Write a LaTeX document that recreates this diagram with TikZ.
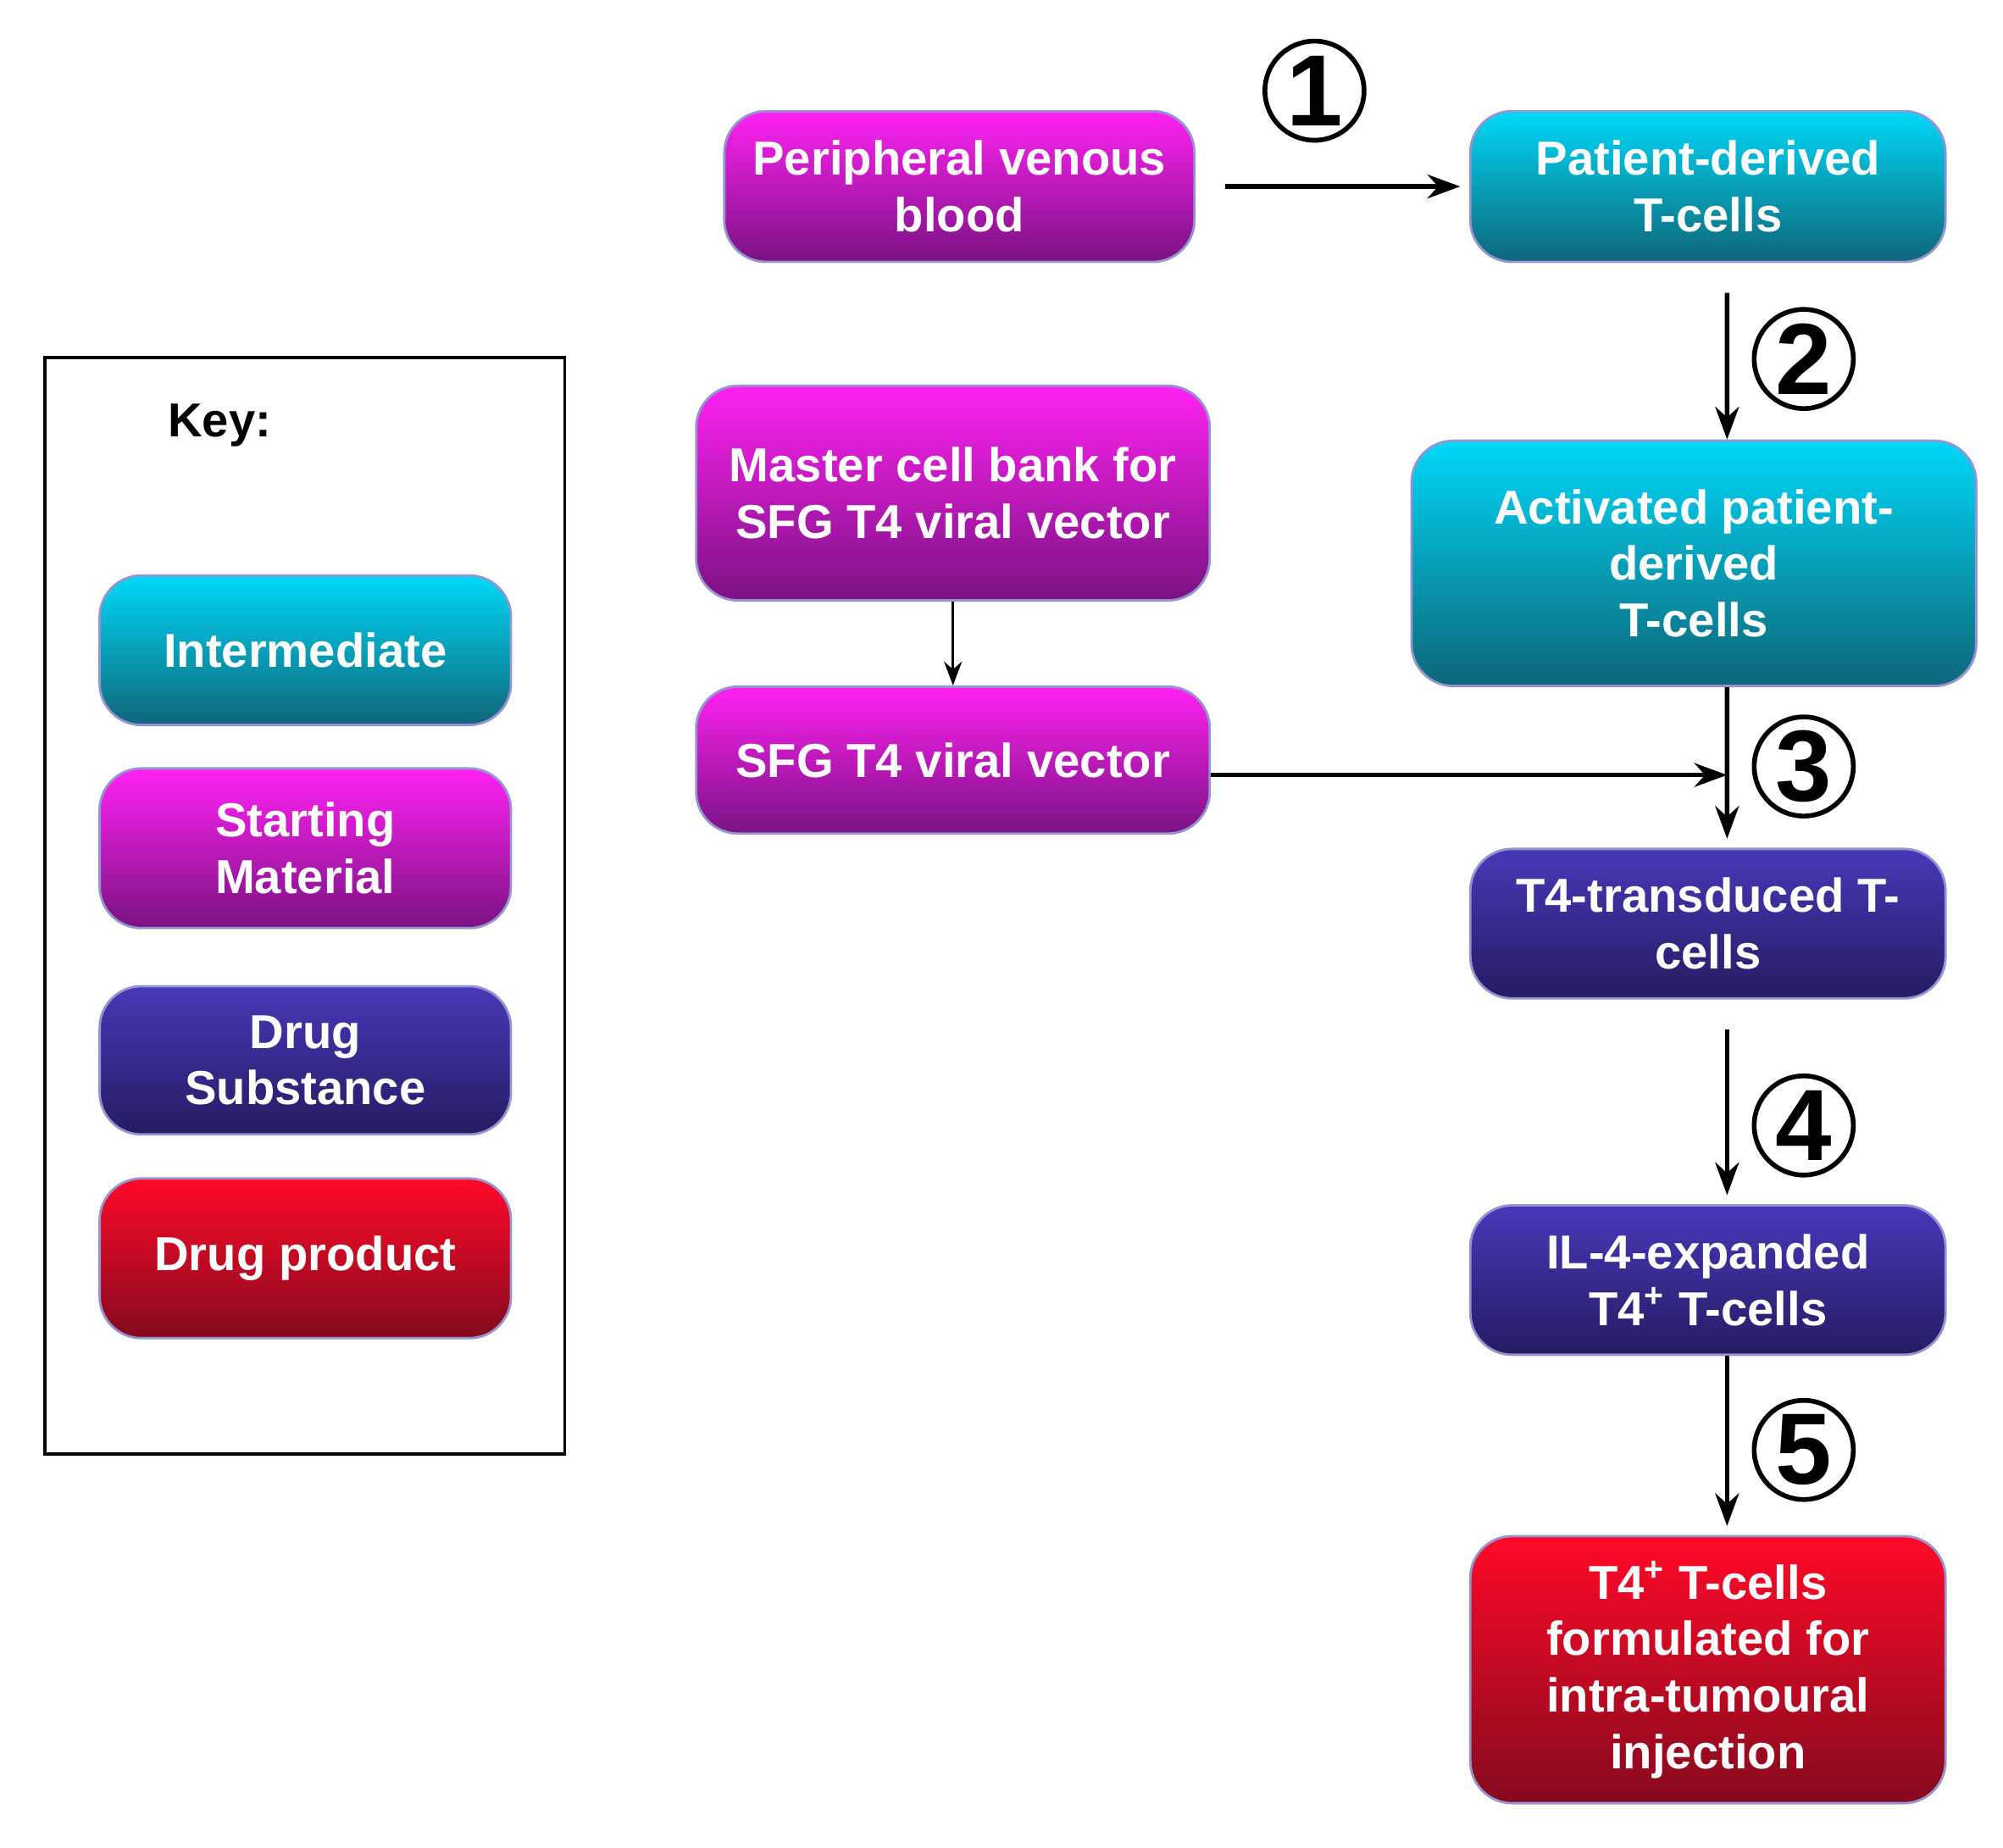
\documentclass[tikz,border=0pt]{standalone}
\usepackage{fontspec}
\setmainfont{Liberation Sans}
\usetikzlibrary{arrows.meta}
\definecolor{cyT}{HTML}{00D8F8}\definecolor{cyB}{HTML}{0F6678}
\definecolor{mgT}{HTML}{FF22F2}\definecolor{mgB}{HTML}{7A1282}
\definecolor{puT}{HTML}{4838B8}\definecolor{puB}{HTML}{251C62}
\definecolor{rdT}{HTML}{FF0A28}\definecolor{rdB}{HTML}{840A1E}
\begin{document}
\begin{tikzpicture}[x=0.015077cm,y=-0.015077cm,
 box/.style={rounded corners=14pt,draw=blue!40!gray!60,line width=0.8pt,text=white,
   font=\fontsize{16}{19}\selectfont\bfseries,align=center,inner sep=0pt},
 inter/.style={box,top color=cyT,bottom color=cyB},
 start/.style={box,top color=mgT,bottom color=mgB},
 subst/.style={box,top color=puT,bottom color=puB},
 prod/.style={box,top color=rdT,bottom color=rdB},
 arr/.style={-{Stealth[length=11pt,width=8pt]},line width=1.6pt},
 num/.style={circle,draw,line width=1.6pt,minimum size=1.95cm*0.6,inner sep=0pt,font=\fontsize{34}{34}\selectfont\bfseries}]
\useasboundingbox (0,0) rectangle (1568,1446);
% key
\node[draw,line width=1pt,minimum width=407*0.015077cm,minimum height=858*0.015077cm] (key) at (238.5,709) {};
\node[font=\fontsize{16}{19}\selectfont\bfseries] (keyl) at (172,333) {Key:};
\node[inter,minimum width=322*0.015077cm,minimum height=117*0.015077cm] (k1) at (239,509) {Intermediate};
\node[start,minimum width=322*0.015077cm,minimum height=125*0.015077cm] (k2) at (239,664) {Starting\\Material};
\node[subst,minimum width=322*0.015077cm,minimum height=116*0.015077cm] (k3) at (239,830) {Drug\\Substance};
\node[prod,minimum width=322*0.015077cm,minimum height=125*0.015077cm] (k4) at (239,985) {Drug product};
% flow
\node[start,minimum width=368*0.015077cm,minimum height=118*0.015077cm] (pvb) at (751,146) {Peripheral venous\\blood};
\node[inter,minimum width=372*0.015077cm,minimum height=118*0.015077cm] (pdt) at (1337,146) {Patient-derived\\T-cells};
\node[start,minimum width=402*0.015077cm,minimum height=168*0.015077cm] (mcb) at (746,386) {Master cell bank for\\SFG T4 viral vector};
\node[inter,minimum width=442*0.015077cm,minimum height=192*0.015077cm] (act) at (1326,441) {Activated patient-\\derived\\T-cells};
\node[start,minimum width=402*0.015077cm,minimum height=115*0.015077cm] (sfg) at (746,595) {SFG T4 viral vector};
\node[subst,minimum width=372*0.015077cm,minimum height=117*0.015077cm] (t4t) at (1337,723) {T4-transduced T-\\cells};
\node[subst,minimum width=372*0.015077cm,minimum height=117*0.015077cm] (il4) at (1337,1002) {IL-4-expanded\\T4\textsuperscript{+} T-cells};
\node[prod,minimum width=372*0.015077cm,minimum height=209*0.015077cm] (fin) at (1337,1307) {T4\textsuperscript{+} T-cells\\formulated for\\intra-tumoural\\injection};
% numbers
\node[num] (n1) at (1029,71) {1};
\node[num] (n2) at (1412,281) {2};
\node[num] (n3) at (1412,600) {3};
\node[num] (n4) at (1412,881) {4};
\node[num] (n5) at (1412,1135) {5};
% arrows
\draw[arr] ([xshift=10pt]pvb.east) -- ([xshift=-3pt]pdt.west);
\draw[arr] ([xshift=0.226cm,yshift=-10pt]pdt.south) -- ([xshift=0.226cm+0.166cm]act.north);
\draw[-{Stealth[length=8pt,width=6pt]},line width=1pt] (mcb.south) -- (sfg.north);
\draw[arr] ([yshift=-5pt]sfg.east) -- ([xshift=0.226cm,yshift=-5pt]sfg.east -| t4t.north);
\draw[arr] ([xshift=0.392cm]act.south) -- ([xshift=0.226cm,yshift=3pt]t4t.north);
\draw[arr] ([xshift=0.226cm,yshift=-10pt]t4t.south) -- ([xshift=0.226cm,yshift=3pt]il4.north);
\draw[arr] ([xshift=0.226cm]il4.south) -- ([xshift=0.226cm,yshift=3pt]fin.north);
\end{tikzpicture}
\end{document}
